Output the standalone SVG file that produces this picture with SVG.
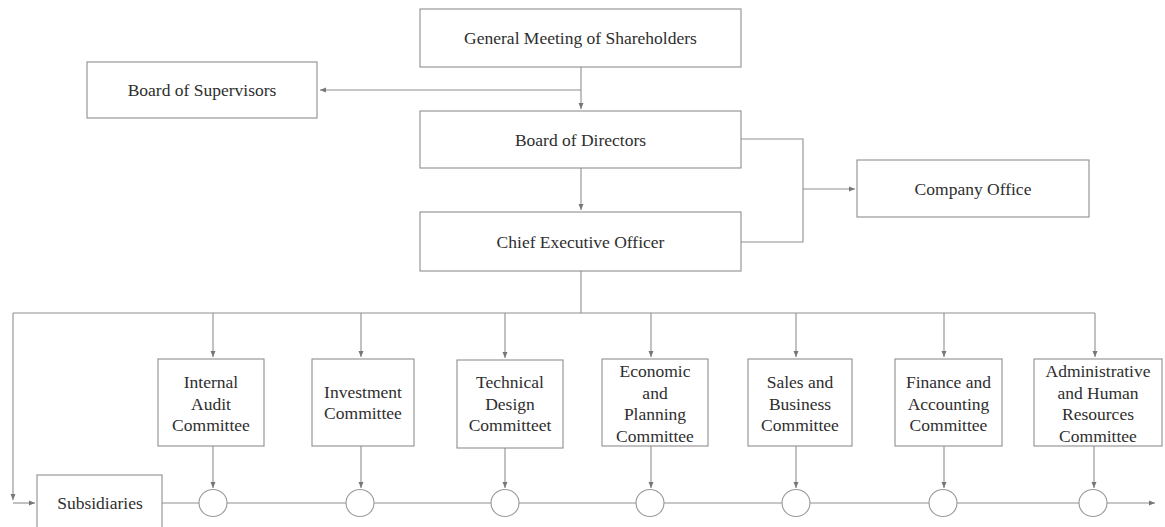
<svg xmlns="http://www.w3.org/2000/svg" width="1165" height="527" viewBox="0 0 1165 527">
<defs>
<style>
.box{fill:#fff;stroke:#8f8f8f;stroke-width:1.1}
.ln{fill:none;stroke:#8f8f8f;stroke-width:1.1}
.circ{fill:#fff;stroke:#9a9a9a;stroke-width:1.1}
text{font-family:"Liberation Serif","Times New Roman",serif;font-size:17.5px;fill:#2e2e2e;text-anchor:middle}
</style>
<marker id="arr" viewBox="0 0 6 6" refX="6" refY="3" markerWidth="6" markerHeight="6" orient="auto" markerUnits="userSpaceOnUse">
<path d="M0,0.5 L6,3 L0,5.5 z" fill="#777"/>
</marker>
</defs>
<rect width="1165" height="527" fill="#fff"/>

<g id="connectors">
<path class="ln" d="M581,67 V109" marker-end="url(#arr)"/>
<path class="ln" d="M581,90 H320" marker-end="url(#arr)"/>
<path class="ln" d="M581,168 V210" marker-end="url(#arr)"/>
<path class="ln" d="M741,139 H803 V242 H741"/>
<path class="ln" d="M803,189 H855" marker-end="url(#arr)"/>
<path class="ln" d="M581,271 V313"/>
<path class="ln" d="M13,313 H1095"/>
<path class="ln" d="M13,313 V500" marker-end="url(#arr)"/>
<path class="ln" d="M13,503 H35" marker-end="url(#arr)"/>
<path class="ln" d="M213,313 V357" marker-end="url(#arr)"/>
<path class="ln" d="M361,313 V357" marker-end="url(#arr)"/>
<path class="ln" d="M505,313 V358" marker-end="url(#arr)"/>
<path class="ln" d="M651,313 V357" marker-end="url(#arr)"/>
<path class="ln" d="M796,313 V357" marker-end="url(#arr)"/>
<path class="ln" d="M944,313 V357" marker-end="url(#arr)"/>
<path class="ln" d="M1095,313 V357" marker-end="url(#arr)"/>
<path class="ln" d="M213,446 V488" marker-end="url(#arr)"/>
<path class="ln" d="M361,446 V488" marker-end="url(#arr)"/>
<path class="ln" d="M505,448 V488" marker-end="url(#arr)"/>
<path class="ln" d="M651,446 V488" marker-end="url(#arr)"/>
<path class="ln" d="M796,446 V488" marker-end="url(#arr)"/>
<path class="ln" d="M944,446 V488" marker-end="url(#arr)"/>
<path class="ln" d="M1094,446 V488" marker-end="url(#arr)"/>
<path class="ln" d="M162,503 H1155" marker-end="url(#arr)"/>
</g>

<g id="general-meeting">
<rect class="box" x="420" y="9" width="321" height="58"/>
<text x="580.5" y="44">General Meeting of Shareholders</text>
</g>
<g id="board-of-supervisors">
<rect class="box" x="87" y="62" width="230" height="56"/>
<text x="202" y="96">Board of Supervisors</text>
</g>
<g id="board-of-directors">
<rect class="box" x="420" y="111" width="321" height="57"/>
<text x="580.5" y="146">Board of Directors</text>
</g>
<g id="ceo">
<rect class="box" x="420" y="212" width="321" height="59"/>
<text x="580.5" y="248">Chief Executive Officer</text>
</g>
<g id="company-office">
<rect class="box" x="857" y="160" width="232" height="57"/>
<text x="973" y="195">Company Office</text>
</g>
<g id="subsidiaries">
<rect class="box" x="37" y="475" width="125" height="70"/>
<text x="100" y="509">Subsidiaries</text>
</g>

<g id="internal-audit">
<rect class="box" x="158" y="359" width="106" height="87"/>
<text x="211" y="388">Internal</text>
<text x="211" y="409.5">Audit</text>
<text x="211" y="431">Committee</text>
</g>
<g id="investment">
<rect class="box" x="312" y="359" width="102" height="87"/>
<text x="363" y="398">Investment</text>
<text x="363" y="419">Committee</text>
</g>
<g id="technical-design">
<rect class="box" x="457" y="360" width="106" height="88"/>
<text x="510" y="388">Technical</text>
<text x="510" y="409.5">Design</text>
<text x="510" y="431">Committeet</text>
</g>
<g id="economic-planning">
<rect class="box" x="602" y="359" width="106" height="87"/>
<text x="655" y="377">Economic</text>
<text x="655" y="398.5">and</text>
<text x="655" y="420">Planning</text>
<text x="655" y="441.5">Committee</text>
</g>
<g id="sales-business">
<rect class="box" x="748" y="359" width="104" height="87"/>
<text x="800" y="388">Sales and</text>
<text x="800" y="409.5">Business</text>
<text x="800" y="431">Committee</text>
</g>
<g id="finance-accounting">
<rect class="box" x="895" y="359" width="107" height="87"/>
<text x="948.5" y="388">Finance and</text>
<text x="948.5" y="409.5">Accounting</text>
<text x="948.5" y="431">Committee</text>
</g>
<g id="admin-hr">
<rect class="box" x="1034" y="359" width="128" height="87"/>
<text x="1098" y="377">Administrative</text>
<text x="1098" y="398.5">and Human</text>
<text x="1098" y="420">Resources</text>
<text x="1098" y="441.5">Committee</text>
</g>

<g id="junctions">
<ellipse class="circ" cx="213" cy="503" rx="14" ry="13.5"/>
<ellipse class="circ" cx="360" cy="503" rx="14" ry="13.5"/>
<ellipse class="circ" cx="505" cy="503" rx="14" ry="13.5"/>
<ellipse class="circ" cx="650" cy="503" rx="14" ry="13.5"/>
<ellipse class="circ" cx="796" cy="503" rx="14" ry="13.5"/>
<ellipse class="circ" cx="943" cy="503" rx="14" ry="13.5"/>
<ellipse class="circ" cx="1093" cy="503" rx="14" ry="13.5"/>
</g>
</svg>
